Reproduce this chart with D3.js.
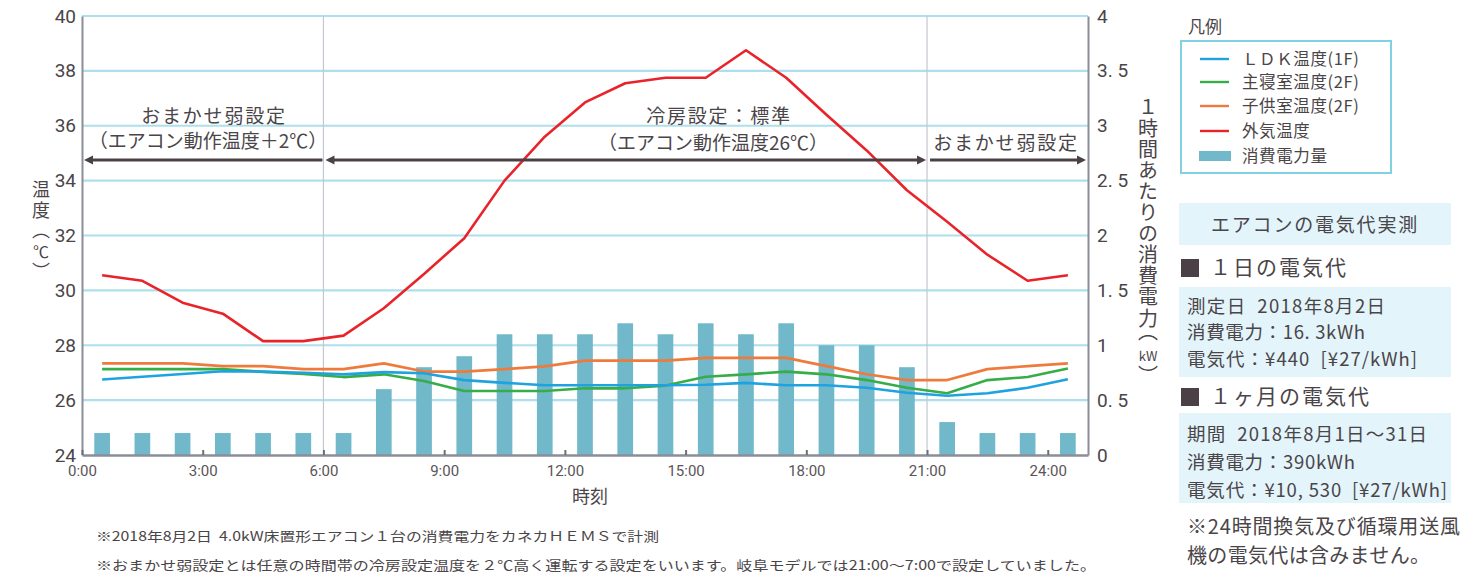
<!DOCTYPE html>
<html><head><meta charset="utf-8">
<script src="https://cdn.jsdelivr.net/npm/d3@7"></script>
<style>
html,body{margin:0;padding:0;background:#fff;}
svg{display:block;font-family:"Noto Sans CJK JP","Noto Sans",sans-serif;}
</style></head><body>
<svg id="c" width="1480" height="575"></svg>
<script>
// ---------- data ----------
const hours = [0.5,1.5,2.5,3.5,4.5,5.5,6.5,7.5,8.5,9.5,10.5,11.5,12.5,13.5,14.5,15.5,16.5,17.5,18.5,19.5,20.5,21.5,22.5,23.5,24.5];
const powerKW = [0.2,0.2,0.2,0.2,0.2,0.2,0.2,0.6,0.8,0.9,1.1,1.1,1.1,1.2,1.1,1.2,1.1,1.2,1.0,1.0,0.8,0.3,0.2,0.2,0.2];
const ldkTemp = [26.75,26.85,26.95,27.05,27.04,27.0,26.94,27.02,26.98,26.73,26.63,26.54,26.54,26.54,26.54,26.56,26.63,26.54,26.54,26.45,26.27,26.16,26.25,26.45,26.76];
const bedroomTemp = [27.13,27.13,27.13,27.13,27.03,26.95,26.84,26.94,26.7,26.33,26.33,26.33,26.43,26.43,26.53,26.85,26.94,27.04,26.94,26.73,26.45,26.25,26.73,26.84,27.15];
const kidsTemp = [27.34,27.34,27.34,27.24,27.24,27.13,27.13,27.34,27.04,27.04,27.13,27.23,27.44,27.44,27.44,27.54,27.54,27.54,27.24,26.94,26.73,26.73,27.13,27.24,27.34];
const outdoorTemp = [30.55,30.35,29.55,29.15,28.15,28.15,28.35,29.35,30.6,31.9,34.0,35.6,36.85,37.55,37.75,37.75,38.75,37.75,36.4,35.1,33.65,32.5,31.3,30.35,30.55];

const tempTicks = [24,26,28,30,32,34,36,38,40];
const powerTicks = [0,0.5,1,1.5,2,2.5,3,3.5,4];
const powerTickLabels = ["0","0. 5","1","1. 5","2","2. 5","3","3. 5","4"];
const timeTicks = [0,3,6,9,12,15,18,21,24];
const timeTickLabels = ["0:00","3:00","6:00","9:00","12:00","15:00","18:00","21:00","24:00"];
const modeBoundaries = [6,21];

const seriesNames = ["ＬＤＫ温度(1F)","主寝室温度(2F)","子供室温度(2F)","外気温度","消費電力量"];
const seriesColors = ["#1fa3e0","#37ad48","#ee7b3b","#e9232a","#70b8ca"];

const infoLines1 = ["測定日  2018年8月2日","消費電力：16. 3kWh","電気代：¥440  [¥27/kWh]"];
const infoLines2 = ["期間  2018年8月1日～31日","消費電力：390kWh","電気代：¥10, 530  [¥27/kWh]"];
const noteLines = ["※24時間換気及び循環用送風","機の電気代は含みません。"];
const footnotes = ["※2018年8月2日  4.0kW床置形エアコン１台の消費電力をカネカＨＥＭＳで計測",
                   "※おまかせ弱設定とは任意の時間帯の冷房設定温度を２℃高く運転する設定をいいます。岐阜モデルでは21:00～7:00で設定していました。"];

// ---------- drawing ----------
const svg = d3.select("#c");
const TXT = "#4a4548";
const x = d3.scaleLinear().domain([0,25]).range([82,1088]);
const yT = d3.scaleLinear().domain([24,40]).range([455,16]);
const yP = d3.scaleLinear().domain([0,4]).range([455,16]);

// grid
svg.append("g").selectAll("line").data(tempTicks.slice(1)).join("line")
  .attr("x1",x(0)).attr("x2",x(25)).attr("y1",d=>yT(d)).attr("y2",d=>yT(d))
  .attr("stroke","#ade0ec").attr("stroke-width",2.2);

// mode boundaries
svg.append("g").selectAll("line").data(modeBoundaries).join("line")
  .attr("x1",d=>x(d)).attr("x2",d=>x(d)).attr("y1",yT(40)).attr("y2",yT(24))
  .attr("stroke","#c3c7cf").attr("stroke-width",1.2);

// bars
const bw = x(0.39)-x(0);
svg.append("g").selectAll("rect").data(hours).join("rect")
  .attr("x",(d)=>x(d)-bw/2).attr("width",bw)
  .attr("y",(d,i)=>yP(powerKW[i])).attr("height",(d,i)=>yP(0)-yP(powerKW[i]))
  .attr("fill",seriesColors[4]);

// lines
const tempSeries = [ldkTemp,bedroomTemp,kidsTemp,outdoorTemp];
const order = [2,1,0,3];
const line = d3.line().x((d,i)=>x(hours[i])).y(d=>yT(d));
order.forEach(k=>{
  svg.append("path").datum(tempSeries[k]).attr("d",line)
    .attr("fill","none").attr("stroke",seriesColors[k]).attr("stroke-width",2.6)
    .attr("stroke-linejoin","round");
});

// axes
const axL = svg.append("g").attr("transform",`translate(${x(0)},0)`)
  .call(d3.axisLeft(yT).tickValues(tempTicks).tickSize(0).tickPadding(6));
axL.select(".domain").attr("stroke","#8b8e99").attr("stroke-width",2);
axL.selectAll("text").attr("font-size",19).attr("fill",TXT).attr("font-family","Roboto, 'Noto Sans', sans-serif");

const axR = svg.append("g").attr("transform",`translate(${x(25)},0)`)
  .call(d3.axisRight(yP).tickValues(powerTicks).tickFormat((d,i)=>powerTickLabels[i]).tickSize(0).tickPadding(9));
axR.select(".domain").attr("stroke","#8b8e99").attr("stroke-width",2);
axR.selectAll("text").attr("font-size",19).attr("fill",TXT).attr("font-family","Roboto, 'Noto Sans', sans-serif").attr("xml:space","preserve");

const axB = svg.append("g").attr("transform",`translate(0,${yT(24)})`)
  .call(d3.axisBottom(x).tickValues(timeTicks).tickFormat((d,i)=>timeTickLabels[i]).tickSizeInner(-5).tickSizeOuter(0).tickPadding(10));
axB.select(".domain").attr("stroke","#8b8e99").attr("stroke-width",2.4);
axB.selectAll(".tick line").attr("stroke","#6b6e79").attr("stroke-width",2);
axB.selectAll("text").attr("font-size",15).attr("fill","#5a5558").attr("font-family","Roboto, 'Noto Sans', sans-serif");

// axis titles
svg.append("text").attr("x",590).attr("y",503).attr("text-anchor","middle")
  .attr("font-size",18).attr("fill",TXT).text("時刻");
function vtext(cx, y0, t, fs, ls){
  svg.append("text").attr("x",cx).attr("y",y0).attr("font-size",fs).attr("fill",TXT)
    .style("writing-mode","vertical-rl").attr("letter-spacing",ls).text(t);
}
function htext(cx, cy, t, fs){
  svg.append("text").attr("x",cx).attr("y",cy).attr("dy","0.35em").attr("text-anchor","middle")
    .attr("font-size",fs).attr("fill",TXT).text(t);
}
vtext(41,180,"温度",18,3);
vtext(41,221,"（",18,0);
htext(41,252,"℃",16);
vtext(41,262,"）",18,0);

vtext(1148,97,"１時間あたりの消費電力",20,1.1);
vtext(1148,321,"（",20,0);
htext(1148,356,"kW",13);
vtext(1148,365,"）",20,0);

// mode arrows
const ay = 160, AC = "#4a4045";
function arrow(x1,x2,headL,headR){
  svg.append("line").attr("x1",x1+(headL?6:0)).attr("x2",x2-(headR?6:0)).attr("y1",ay).attr("y2",ay)
    .attr("stroke",AC).attr("stroke-width",3);
  if(headL) svg.append("path").attr("d",`M${x1},${ay}L${x1+9},${ay-4.5}L${x1+9},${ay+4.5}Z`).attr("fill",AC);
  if(headR) svg.append("path").attr("d",`M${x2},${ay}L${x2-9},${ay-4.5}L${x2-9},${ay+4.5}Z`).attr("fill",AC);
}
arrow(x(0)+2, x(6)-1, true, false);
arrow(x(6)+2, x(21)-1, true, true);
arrow(x(21)+3, x(25)-2, false, true);

function label(cx, cy, t, ls){
  svg.append("text").attr("x",cx).attr("y",cy).attr("dy","0.35em").attr("text-anchor","middle")
    .attr("font-size",19).attr("fill",TXT).attr("letter-spacing",ls||0).text(t);
}
label(214,116,"おまかせ弱設定",1.8);
label(208,141,"（エアコン動作温度＋2℃）",0);
label(719,116,"冷房設定：標準",1.8);
label(713,143,"（エアコン動作温度26℃）",0);
label(1006,143,"おまかせ弱設定",1.8);

// legend
svg.append("text").attr("x",1188).attr("y",27).attr("dy","0.35em").attr("font-size",17).attr("fill",TXT).text("凡例");
svg.append("rect").attr("x",1181).attr("y",41).attr("width",210).attr("height",132)
  .attr("fill","#fff").attr("stroke","#80d2e2").attr("stroke-width",2);
const legY = [59,82,106,131,156];
seriesNames.forEach((n,i)=>{
  if(i<4){
    svg.append("line").attr("x1",1200).attr("x2",1229).attr("y1",legY[i]).attr("y2",legY[i])
      .attr("stroke",seriesColors[i]).attr("stroke-width",2.4);
  } else {
    svg.append("rect").attr("x",1199).attr("y",legY[i]-5).attr("width",32).attr("height",10).attr("fill",seriesColors[i]);
  }
  svg.append("text").attr("x",1242).attr("y",legY[i]).attr("dy","0.35em").attr("font-size",16.5)
    .attr("letter-spacing",0.6).attr("fill",TXT).text(n);
});

// info panel
const BG = "#e3f4fb";
svg.append("rect").attr("x",1179).attr("y",203).attr("width",272).attr("height",42).attr("fill",BG);
svg.append("text").attr("x",1315).attr("y",225).attr("dy","0.35em").attr("text-anchor","middle")
  .attr("font-size",19).attr("letter-spacing",1.8).attr("fill",TXT).text("エアコンの電気代実測");

function heading(cy,t){
  svg.append("rect").attr("x",1181).attr("y",cy-9).attr("width",18).attr("height",18).attr("fill","#4a4045");
  svg.append("text").attr("x",1210).attr("y",cy).attr("dy","0.35em").attr("font-size",21)
    .attr("letter-spacing",2).attr("fill",TXT).text(t);
}
heading(268,"１日の電気代");
heading(397,"１ヶ月の電気代");

function box(y0,h,lines,ys,lens){
  svg.append("rect").attr("x",1179).attr("y",y0).attr("width",272).attr("height",h).attr("fill",BG);
  lines.forEach((t,i)=>{
    svg.append("text").attr("x",1187).attr("y",ys[i]).attr("dy","0.35em").attr("font-size",18.5)
      .attr("fill",TXT).attr("xml:space","preserve").attr("textLength",lens[i]).attr("lengthAdjust","spacing").text(t);
  });
}
box(287,90,infoLines1,[307,333,360],[198,178,230]);
box(413,90,infoLines2,[435,463,491],[240,168,260]);
noteLines.forEach((t,i)=>{
  svg.append("text").attr("x",1187).attr("y",[527,556][i]).attr("dy","0.35em").attr("font-size",20)
    .attr("fill",TXT).attr("textLength",[273,243][i]).attr("lengthAdjust","spacing").text(t);
});

// footnotes
svg.append("text").attr("x",96).attr("y",536).attr("dy","0.35em").attr("font-size",13)
  .attr("fill",TXT).attr("textLength",563).attr("lengthAdjust","spacingAndGlyphs").attr("xml:space","preserve").text(footnotes[0]);
svg.append("text").attr("x",96).attr("y",565).attr("dy","0.35em").attr("font-size",13)
  .attr("fill",TXT).attr("textLength",1000).attr("lengthAdjust","spacingAndGlyphs").text(footnotes[1]);
</script>
</body></html>
